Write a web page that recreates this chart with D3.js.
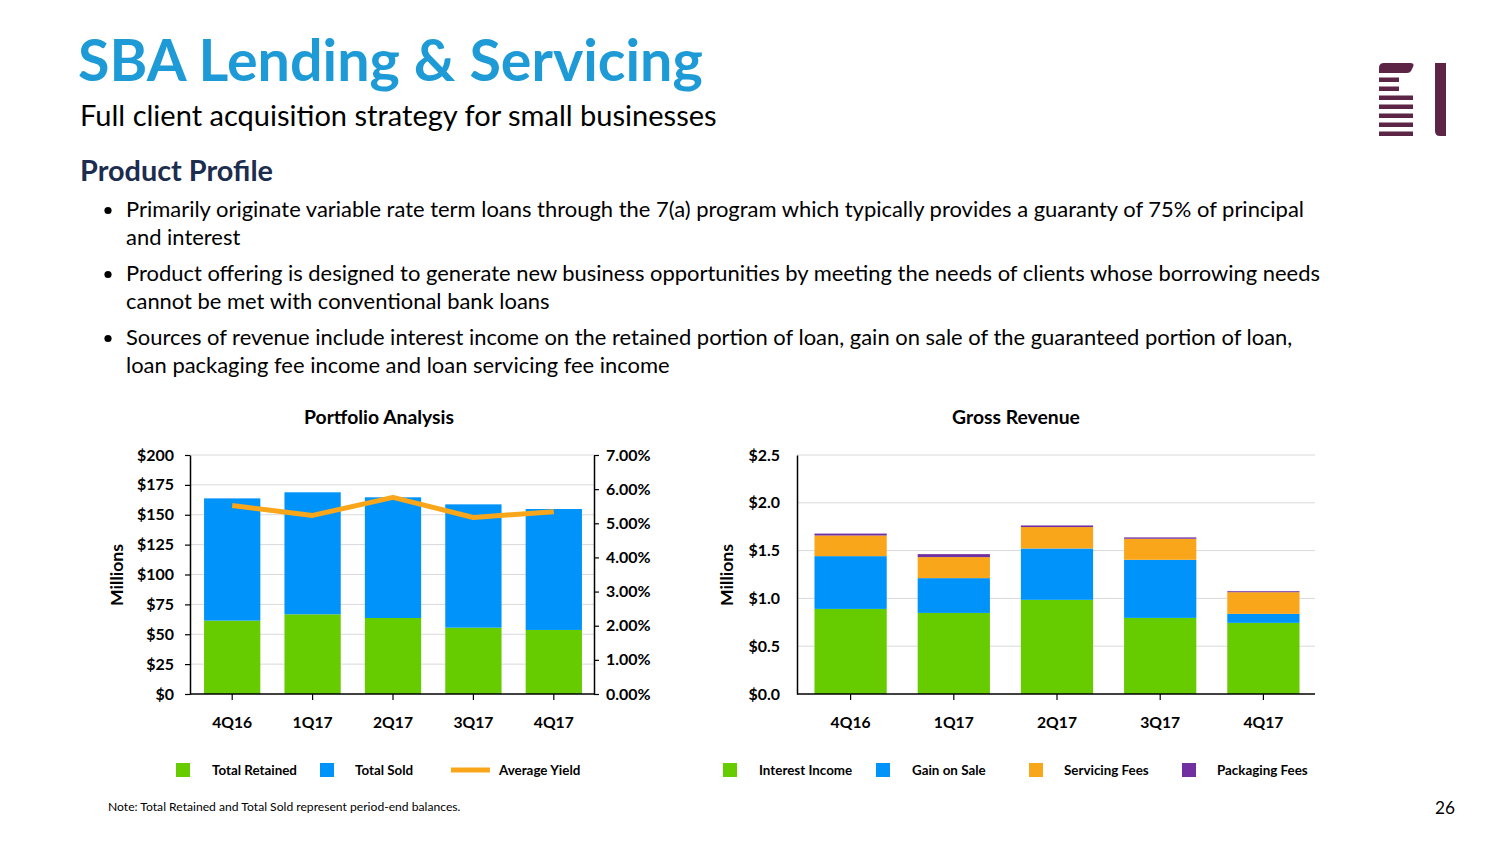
<!DOCTYPE html>
<html><head><meta charset="utf-8">
<script src="https://cdn.jsdelivr.net/npm/d3@7"></script>
<style>body{margin:0;background:#fff;} svg{display:block;}</style>
</head><body><svg id="c" width="1504" height="846"></svg>
<script>
// ---------- DATA ----------
const categories = ["4Q16", "1Q17", "2Q17", "3Q17", "4Q17"];
const totalRetained = [61.4, 66.7, 63.6, 55.5, 53.6];
const totalSold = [102.3, 102.1, 101.0, 103.2, 101.2];
const averageYield = [0.0552, 0.0523, 0.0576, 0.0517, 0.0534];
const portfolioTicks = [0, 25, 50, 75, 100, 125, 150, 175, 200];
const yieldTicks = [0, 0.01, 0.02, 0.03, 0.04, 0.05, 0.06, 0.07];

const interestIncome = [0.890, 0.848, 0.985, 0.796, 0.744];
const gainOnSale = [0.552, 0.364, 0.537, 0.608, 0.094];
const servicingFees = [0.216, 0.220, 0.224, 0.220, 0.227];
const packagingFees = [0.020, 0.031, 0.017, 0.014, 0.010];
const revenueTicks = [0, 0.5, 1.0, 1.5, 2.0, 2.5];

const portfolioLegend = ["Total Retained", "Total Sold", "Average Yield"];
const revenueLegend = ["Interest Income", "Gain on Sale", "Servicing Fees", "Packaging Fees"];

const bullets = [
  ["Primarily originate variable rate term loans through the 7(a) program which typically provides a guaranty of 75% of principal", "and interest"],
  ["Product offering is designed to generate new business opportunities by meeting the needs of clients whose borrowing needs", "cannot be met with conventional bank loans"],
  ["Sources of revenue include interest income on the retained portion of loan, gain on sale of the guaranteed portion of loan,", "loan packaging fee income and loan servicing fee income"]
];

// ---------- STYLE ----------
const FONT = "Lato, 'Open Sans', sans-serif";
const C = {green: "#66CC00", blue: "#0094FA", orange: "#FAA61A", purple: "#7030A0",
  title: "#1E9BD7", navy: "#1C2D4F", grid: "#D9D9D9", logo: "#5C2445"};

const svg = d3.select("#c");
svg.append("rect").attr("width", 1504).attr("height", 846).attr("fill", "#fff");

function measure(text, weight, size) {
  const t = svg.append("text").attr("font-family", FONT).attr("font-weight", weight)
    .attr("font-size", size).text(text);
  const w = t.node().getComputedTextLength(); t.remove(); return w;
}
function fit(text, weight, target) { return 100 * target / measure(text, weight, 100); }
function txt(g, x, y, s, size, weight, fill, anchor) {
  return g.append("text").attr("x", x).attr("y", y).attr("font-family", FONT)
    .attr("font-size", size).attr("font-weight", weight).attr("fill", fill || "#000")
    .attr("text-anchor", anchor || "start").text(s);
}

const titleSize = fit("SBA Lending & Servicing", 700, 625);
const subSize = fit("Full client acquisition strategy for small businesses", 400, 637);
const ppSize = fit("Product Profile", 700, 193);
const bulletSize = fit(bullets[0][0], 400, 1179);
const chartTitleSize = fit("Portfolio Analysis", 700, 150);
const tickFont = fit("$200", 700, 37);
const xFont = fit("4Q16", 700, 40);
const legendFont = fit("Total Retained", 700, 85);
const noteText = "Note: Total Retained and Total Sold represent period-end balances.";
const noteFont = fit(noteText, 400, 353);
const millionsFont = fit("Millions", 700, 62);

// ---------- HEADER ----------
txt(svg, 78, 81, "SBA Lending & Servicing", titleSize, 700, C.title);
txt(svg, 80, 126, "Full client acquisition strategy for small businesses", subSize, 400, "#000");
txt(svg, 80, 181, "Product Profile", ppSize, 700, C.navy);
const bulletBase = [217, 281, 345];
bullets.forEach((b, i) => {
  svg.append("circle").attr("cx", 108).attr("cy", bulletBase[i] - 6.5).attr("r", 3.6).attr("fill", "#000");
  b.forEach((line, j) => txt(svg, 126, bulletBase[i] + j * 28, line, bulletSize, 400, "#000"));
});

// logo
const logo = svg.append("g").attr("fill", C.logo);
logo.append("path").attr("d", "M1379,73 V68 Q1379,63 1384,63 H1410 Q1415,63 1413,67 L1411,71 Q1410,73 1407,73 Z");
[77.5, 86.5].forEach(y => logo.append("rect").attr("x", 1379).attr("y", y).attr("width", 20).attr("height", 4.5));
[95.5, 104.5, 113.5, 122.5, 131.5].forEach(y => logo.append("rect").attr("x", 1379).attr("y", y).attr("width", 34).attr("height", 4.5));
logo.append("path").attr("d", "M1435,63 H1446 V136 H1440 Q1435,136 1435,131 Z");

// ---------- PORTFOLIO CHART ----------
const yTop = 455, yBot = 694;
const g1 = svg.append("g");
txt(g1, 379, 424, "Portfolio Analysis", chartTitleSize, 700, "#000", "middle");
const x0 = d3.scaleBand().domain(categories).range([192, 594]).paddingInner(0.3).paddingOuter(0.15);
const yL = d3.scaleLinear().domain([0, 200]).range([yBot, yTop]);
const yR = d3.scaleLinear().domain([0, 0.07]).range([yBot, yTop]);

g1.selectAll("line.grid").data(portfolioTicks.filter(d => d > 0)).join("line")
  .attr("x1", 190).attr("x2", 594).attr("y1", d => yL(d)).attr("y2", d => yL(d))
  .attr("stroke", C.grid).attr("stroke-width", 1);

const pRows = categories.map((c, i) => ({cat: c, retained: totalRetained[i], sold: totalSold[i]}));
const pStack = d3.stack().keys(["retained", "sold"])(pRows);
const pColors = {retained: C.green, sold: C.blue};
g1.selectAll("g.series").data(pStack).join("g").attr("fill", s => pColors[s.key])
  .selectAll("rect").data(s => s).join("rect")
  .attr("x", d => x0(d.data.cat)).attr("width", x0.bandwidth())
  .attr("y", d => yL(d[1])).attr("height", d => yL(d[0]) - yL(d[1]));

const yieldLine = d3.line().x((d, i) => x0(categories[i]) + x0.bandwidth() / 2).y(d => yR(d));
g1.append("path").attr("d", yieldLine(averageYield)).attr("fill", "none")
  .attr("stroke", C.orange).attr("stroke-width", 5).attr("stroke-linejoin", "round");

function styleAxis(g, size) {
  g.select(".domain").attr("stroke", "#000").attr("stroke-width", 1.5);
  g.selectAll(".tick line").attr("stroke", "#000").attr("stroke-width", 1.2);
  g.selectAll(".tick text").attr("font-family", FONT).attr("font-weight", 700)
    .attr("font-size", size).attr("fill", "#000");
}
const axL = g1.append("g").attr("transform", "translate(190,0)")
  .call(d3.axisLeft(yL).tickValues(portfolioTicks).tickFormat(d => "$" + d).tickSizeInner(5).tickSizeOuter(0).tickPadding(11));
styleAxis(axL, tickFont);
const axR = g1.append("g").attr("transform", "translate(594,0)")
  .call(d3.axisRight(yR).tickValues(yieldTicks).tickFormat(d3.format(".2%")).tickSizeInner(5).tickSizeOuter(0).tickPadding(7));
styleAxis(axR, tickFont);
const axB = g1.append("g").attr("transform", `translate(0,${yBot})`)
  .call(d3.axisBottom(x0).tickSizeInner(6).tickSizeOuter(0).tickPadding(17));
axB.select(".domain").attr("d", "M190,0H594");
styleAxis(axB, xFont);

g1.append("text").attr("transform", "translate(123,575) rotate(-90)").attr("text-anchor", "middle")
  .attr("font-family", FONT).attr("font-weight", 700).attr("font-size", millionsFont).text("Millions");

// legend
const lg1 = g1.append("g");
lg1.append("rect").attr("x", 176).attr("y", 763).attr("width", 14).attr("height", 14).attr("fill", C.green);
txt(lg1, 212, 775, portfolioLegend[0], legendFont, 700);
lg1.append("rect").attr("x", 320).attr("y", 763).attr("width", 14).attr("height", 14).attr("fill", C.blue);
txt(lg1, 355, 775, portfolioLegend[1], legendFont, 700);
lg1.append("line").attr("x1", 451).attr("x2", 490).attr("y1", 770).attr("y2", 770).attr("stroke", C.orange).attr("stroke-width", 5);
txt(lg1, 499, 775, portfolioLegend[2], legendFont, 700);

// ---------- REVENUE CHART ----------
const g2 = svg.append("g");
txt(g2, 1016, 424, "Gross Revenue", chartTitleSize, 700, "#000", "middle");
const x1 = d3.scaleBand().domain(categories).range([799, 1315]).paddingInner(0.3).paddingOuter(0.15);
const yG = d3.scaleLinear().domain([0, 2.5]).range([yBot, yTop]);
g2.selectAll("line.grid").data(revenueTicks.filter(d => d > 0)).join("line")
  .attr("x1", 797).attr("x2", 1315).attr("y1", d => yG(d)).attr("y2", d => yG(d))
  .attr("stroke", C.grid).attr("stroke-width", 1);

const rRows = categories.map((c, i) => ({cat: c, interest: interestIncome[i], gain: gainOnSale[i],
  servicing: servicingFees[i], packaging: packagingFees[i]}));
const rKeys = ["interest", "gain", "servicing", "packaging"];
const rColors = {interest: C.green, gain: C.blue, servicing: C.orange, packaging: C.purple};
const rStack = d3.stack().keys(rKeys)(rRows);
g2.selectAll("g.series").data(rStack).join("g").attr("fill", s => rColors[s.key])
  .selectAll("rect").data(s => s).join("rect")
  .attr("x", d => x1(d.data.cat)).attr("width", x1.bandwidth())
  .attr("y", d => yG(d[1])).attr("height", d => yG(d[0]) - yG(d[1]));

const axL2 = g2.append("g").attr("transform", "translate(797,0)")
  .call(d3.axisLeft(yG).tickValues(revenueTicks).tickFormat(d => "$" + d.toFixed(1)).tickSizeInner(0).tickSizeOuter(0).tickPadding(17));
styleAxis(axL2, tickFont);
const axB2 = g2.append("g").attr("transform", `translate(0,${yBot})`)
  .call(d3.axisBottom(x1).tickSizeInner(6).tickSizeOuter(0).tickPadding(17));
axB2.select(".domain").attr("d", "M797,0H1315");
styleAxis(axB2, xFont);

g2.append("text").attr("transform", "translate(733,575) rotate(-90)").attr("text-anchor", "middle")
  .attr("font-family", FONT).attr("font-weight", 700).attr("font-size", millionsFont).text("Millions");

const sqX = [723, 876, 1029, 1182], txX = [759, 912, 1064, 1217];
revenueLegend.forEach((name, i) => {
  g2.append("rect").attr("x", sqX[i]).attr("y", 763).attr("width", 14).attr("height", 14).attr("fill", rColors[rKeys[i]]);
  txt(g2, txX[i], 775, name, legendFont, 700);
});

// ---------- FOOTER ----------
txt(svg, 108, 811, noteText, noteFont, 400);
txt(svg, 1455, 814, "26", fit("26", 400, 20), 400, "#000", "end");
</script></body></html>
